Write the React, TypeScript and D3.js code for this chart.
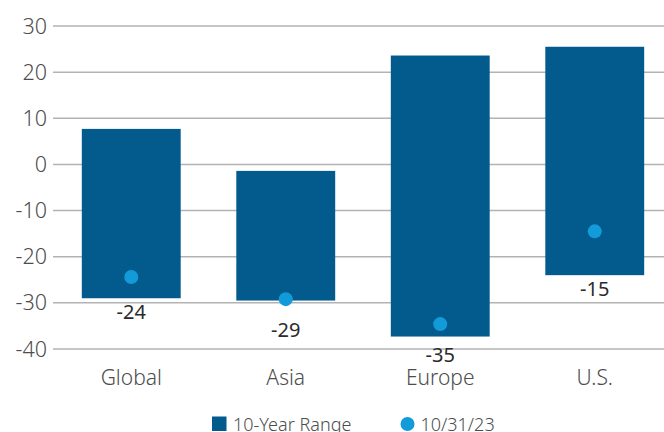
import React from "react";
import * as d3 from "d3";

const categories = ["Global", "Asia", "Europe", "U.S."];
const rangeLow = [-29.0, -29.5, -37.3, -24.0];
const rangeHigh = [7.7, -1.4, 23.6, 25.5];
const current = [-24.4, -29.2, -34.6, -14.5];
const currentLabels = ["-24", "-29", "-35", "-15"];
const yTicks = [30, 20, 10, 0, -10, -20, -30, -40];
const legendLabels = ["10-Year Range", "10/31/23"];

const W = 664;
const H = 432;
const BAR = "#035a8c";
const DOT = "#139bd9";
const FONT = "'Noto Sans', 'Open Sans', sans-serif";

export default function App() {
  const y = d3.scaleLinear().domain([-40, 30]).range([349, 26]);
  const x = d3
    .scaleBand<string>()
    .domain(categories)
    .range([54, 672])
    .paddingInner(0.36)
    .paddingOuter(0.18);
  const r = 7;

  return (
    <svg
      width={W}
      height={H}
      style={{ position: "absolute", left: 0, top: 0, background: "#fff" }}
      fontFamily={FONT}
    >
      {yTicks.map((t) => (
        <g key={t}>
          <line x1={53} x2={W} y1={y(t)} y2={y(t)} stroke="#b3b3b3" strokeWidth={1.5} />
          <text
            x={47}
            y={y(t)}
            dy="0.35em"
            textAnchor="end"
            fontSize={21.5}
            fontWeight={300}
            fill="#4d4d4d"
          >
            {t}
          </text>
        </g>
      ))}
      {categories.map((c, i) => {
        const bx = x(c)!;
        const bw = x.bandwidth();
        const cx = bx + bw / 2;
        const top = y(rangeHigh[i]);
        const bottom = y(rangeLow[i]);
        const cy = y(current[i]);
        const labelY = Math.max(bottom + 21, cy + r + 31);
        return (
          <g key={c}>
            <rect x={bx} y={top} width={bw} height={bottom - top} fill={BAR} />
            <circle cx={cx} cy={cy} r={r} fill={DOT} />
            <text x={cx} y={labelY} textAnchor="middle" fontSize={20} fill="#2b2b2b">
              {currentLabels[i]}
            </text>
            <text
              x={cx}
              y={385}
              textAnchor="middle"
              fontSize={21}
              fontWeight={300}
              fill="#4d4d4d"
            >
              {c}
            </text>
          </g>
        );
      })}
      <g>
        <rect x={212} y={416.5} width={14.5} height={14.5} fill={BAR} />
        <text x={233} y={431} fontSize={18} fontWeight={300} fill="#4d4d4d">
          {legendLabels[0]}
        </text>
        <circle cx={407.5} cy={424} r={7} fill={DOT} />
        <text x={420.5} y={431} fontSize={18} fontWeight={300} fill="#4d4d4d">
          {legendLabels[1]}
        </text>
      </g>
    </svg>
  );
}
